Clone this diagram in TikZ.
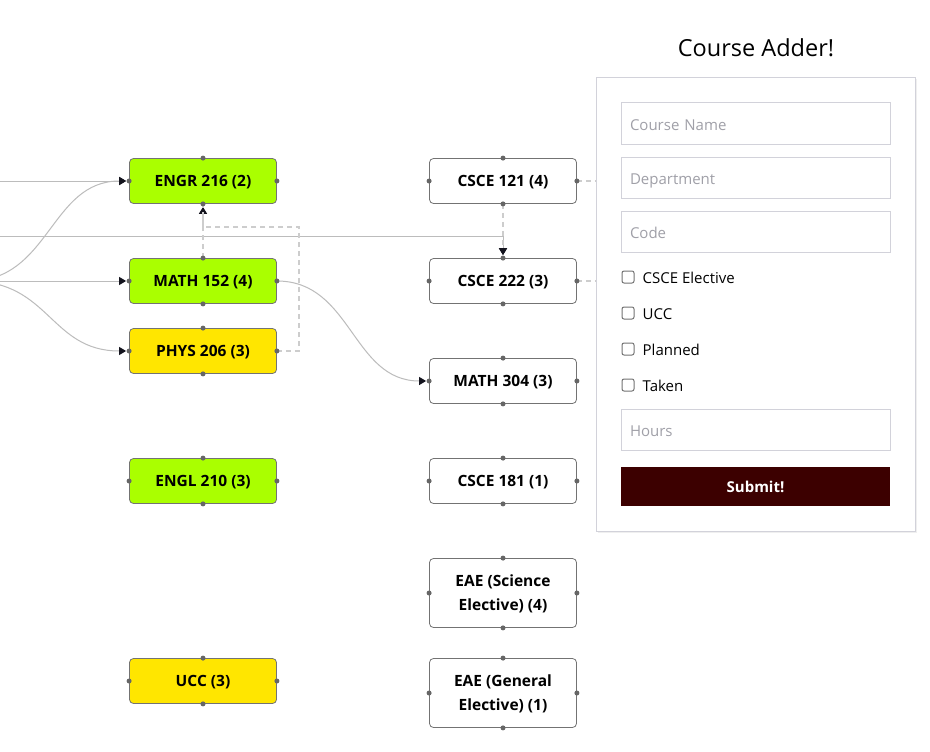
\documentclass[tikz,border=0pt]{standalone}
\usepackage{fontspec}
\IfFontExistsTF{Open Sans Bold}
  {\setmainfont{Open Sans}[BoldFont={Open Sans Bold}]}
  {\setmainfont{Liberation Sans}}
\usetikzlibrary{arrows.meta,positioning,shadows}
\definecolor{V}{RGB}{170,255,0}
\definecolor{A}{RGB}{255,230,0}
\definecolor{M}{RGB}{60,0,0}
\definecolor{L}{RGB}{188,188,188}
\definecolor{D}{RGB}{205,205,205}
\definecolor{P}{RGB}{160,160,168}
\definecolor{F}{RGB}{210,210,218}
\definecolor{N}{RGB}{20,20,30}

\tikzset{
  curso/.style={draw=black!55, line width=0.8pt, rounded corners=4pt,
    minimum width=147pt, minimum height=45pt, align=center, text depth=0pt,
    font=\fontsize{15.5}{24}\selectfont\bfseries},
  enlace/.style={draw=L, line width=1pt},
  punteado/.style={draw=D, line width=1.5pt, dash pattern=on 5pt off 4pt},
  flecha/.style={-{Triangle[length=7pt,width=8pt,color=N]}, shorten >=3pt},
  asa/.style={fill=black!60},
  campo/.style={draw=F, line width=1pt, text width=251pt, inner xsep=9pt,
    minimum height=41pt, align=left, text=P, text height=13pt, text depth=0pt,
    font=\fontsize{15}{18}\selectfont},
  caja/.style={draw=black!55, line width=1pt, rounded corners=2pt,
    minimum size=12pt, inner sep=0pt},
  etiqueta/.style={anchor=west, inner sep=0pt, text height=12pt, text depth=0pt,
    font=\fontsize{15}{18}\selectfont}
}

\begin{document}
\begin{tikzpicture}[x=1pt,y=-1pt]
  \useasboundingbox[fill=white] (0,0) rectangle (930,752);

  %Primera columna
  \node[curso, fill=V] (engr) at (203,181) {ENGR 216 (2)};
  \node[curso, fill=V] (math) at (203,281) {MATH 152 (4)};
  \node[curso, fill=A] (phys) at (203,351) {PHYS 206 (3)};
  \node[curso, fill=V] (engl) at (203,481) {ENGL 210 (3)};
  \node[curso, fill=A] (ucc) at (203,681) {UCC (3)};

  %Segunda columna
  \node[curso] (c121) at (503,181) {CSCE 121 (4)};
  \node[curso] (c222) at (503,281) {CSCE 222 (3)};
  \node[curso] (m304) at (503,381) {MATH 304 (3)};
  \node[curso] (c181) at (503,481) {CSCE 181 (1)};
  \node[curso, minimum height=69pt] (eaes) at (503,593) {EAE (Science\\Elective) (4)};
  \node[curso, minimum height=69pt] (eaeg) at (503,693) {EAE (General\\Elective) (1)};

  %Enlaces que vienen de fuera
  \coordinate (izqA) at (-30,181);
  \coordinate (izqB) at (-30,236);
  \coordinate (izqC) at (-30,281);
  \draw[enlace, flecha] (izqA) -- (engr.west);
  \draw[enlace, flecha] (izqC) .. controls (50,281) and (50,181) .. (engr.west);
  \draw[enlace, flecha] (izqC) -- (math.west);
  \draw[enlace, flecha] (izqC) .. controls (50,281) and (50,351) .. (phys.west);
  \draw[enlace, flecha] (izqB) -| (c222.north);
  \draw[enlace, flecha] (math.east) .. controls (352,281) and (352,381) .. (m304.west);

  %Correquisitos (punteados)
  \draw[punteado, flecha] (math.north) -- (engr.south);
  \draw[punteado] (phys.east) -- ++(22,0) |- ([yshift=-23pt]engr.south) -- (engr.south);
  \draw[punteado, flecha] (c121.south) -- (c222.north);
  \draw[punteado] (c121.east) -- ++(30,0);
  \draw[punteado] (c222.east) -- ++(30,0);

  %Puntos de cada curso
  \foreach \n in {engr,math,phys,engl,ucc,c121,c222,m304,c181,eaes,eaeg}
    \foreach \a in {north,south,east,west}
      \fill[asa] (\n.\a) circle (2.5pt);

  %Formulario
  \node[font=\fontsize{23.5}{27}\selectfont] (titulo) at (756,48) {Course Adder!};
  \node[draw=F, fill=white, line width=1pt, minimum width=319pt, minimum height=453pt,
    drop shadow={opacity=0.12, shadow xshift=1.5pt, shadow yshift=-1.5pt}] (panel) at (755.5,304.5) {};
  \node[campo] (nombre) at (755.5,123.5) {Course Name};
  \node[campo] (depto) at (755.5,177.5) {Department};
  \node[campo] (codigo) at (755.5,231.5) {Code};
  \foreach \y/\t [count=\i] in {277/CSCE Elective, 313/UCC, 349/Planned, 385/Taken}{
    \node[caja] (caja\i) at (628,\y) {};
    \node[etiqueta, right=8pt of caja\i] (et\i) {\t};
  }
  \node[campo] (horas) at (755.5,429.5) {Hours};
  \node[fill=M, text=white, minimum width=269pt, minimum height=39pt,
    font=\fontsize{15}{18}\selectfont\bfseries] (enviar) at (755.5,486.5) {Submit!};
\end{tikzpicture}
\end{document}
